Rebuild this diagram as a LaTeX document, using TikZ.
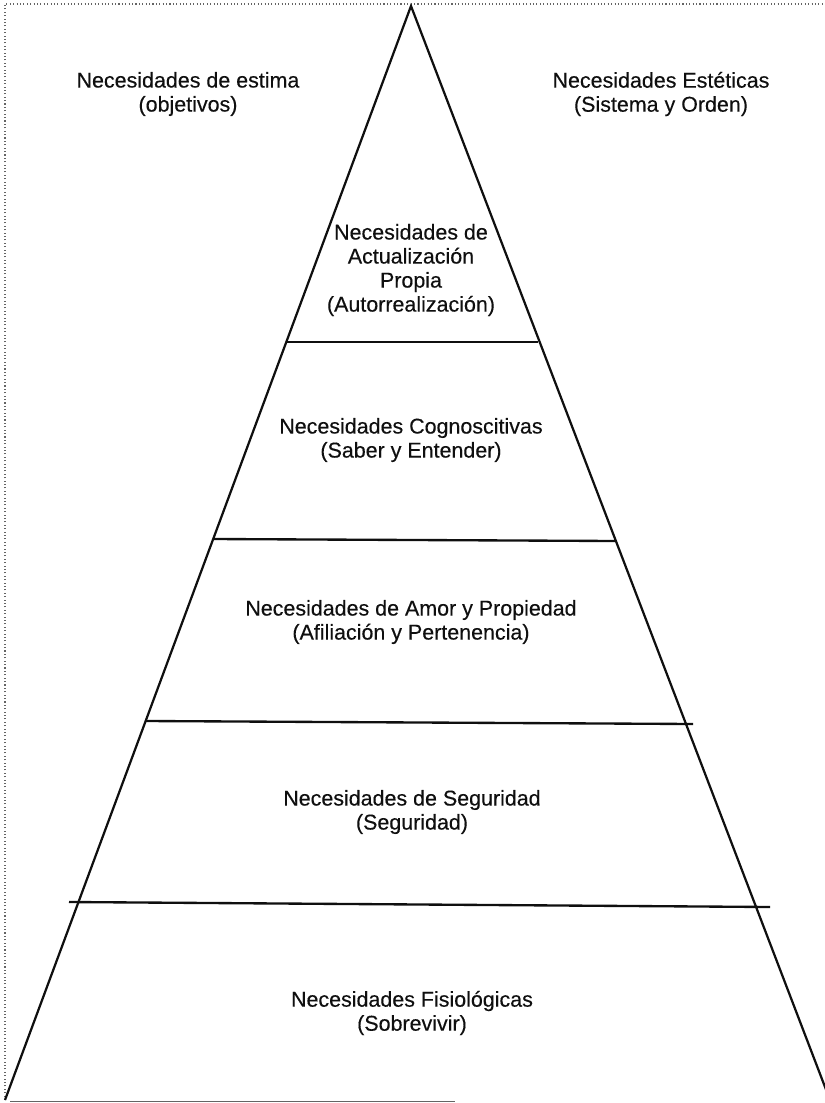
\documentclass[tikz,border=0pt]{standalone}
\usepackage{fontspec}
\setmainfont{Liberation Sans}
\usetikzlibrary{calc}
\definecolor{ink}{RGB}{15,15,15}
\definecolor{soft}{RGB}{100,100,100}
\tikzset{
  every picture/.style={color=ink, line width=0.5pt},
  side/.style={line width=1.9pt, line join=miter},
  layer/.style={line width=2pt},
  frame/.style={draw=soft, dotted, line width=0.9pt},
  lbl/.style={font=\fontsize{18.3}{20.5}\selectfont\addfontfeature{FakeBold=0.3}, align=center, inner sep=0pt, text=ink},
}

\begin{document}
\begin{tikzpicture}[x=0.3mm, y=-0.3mm]
  % one unit is one pixel of the scanned page; y runs downward
  \useasboundingbox (0,0) rectangle (825,1103);
  \draw[frame] (5,1100) -- (5,4) -- (825,4);
  \draw[soft, line width=0.7pt] (10,1101) -- (455,1101);
  % the pyramid and its five floors
  \coordinate (apex) at (411,6);
  \coordinate (baseL) at (5,1100);
  \coordinate (baseR) at (830,1100);
  \draw[side] (baseL) -- (apex) -- (baseR);
  \coordinate (l1a) at (287,342); \coordinate (l1b) at (538,342);
  \coordinate (l2a) at (213,539); \coordinate (l2b) at (615,541);
  \coordinate (l3a) at (146,721); \coordinate (l3b) at (693,724);
  \coordinate (l4a) at (69,902);  \coordinate (l4b) at (770,907);
  \draw[layer] (l1a) -- (l1b);
  \draw[layer] (l2a) -- (l2b);
  \draw[layer] (l3a) -- (l3b);
  \draw[layer] (l4a) -- (l4b);
  % labels
  \node[lbl] (estima) at (188,94) {Necesidades de estima\\(objetivos)};
  \node[lbl] (estetica) at (661,94) {Necesidades Estéticas\\(Sistema y Orden)};
  \node[lbl] (autorr) at (411,270) {Necesidades de\\Actualización\\Propia\\(Autorrealización)};
  \node[lbl] (cogn) at (411,440) {Necesidades Cognoscitivas\\(Saber y Entender)};
  \node[lbl] (amor) at (411,622) {Necesidades de Amor y Propiedad\\(Afiliación y Pertenencia)};
  \node[lbl] (segur) at (412,812) {Necesidades de Seguridad\\(Seguridad)};
  \node[lbl] (fisio) at (412,1013) {Necesidades Fisiológicas\\(Sobrevivir)};
\end{tikzpicture}
\end{document}
